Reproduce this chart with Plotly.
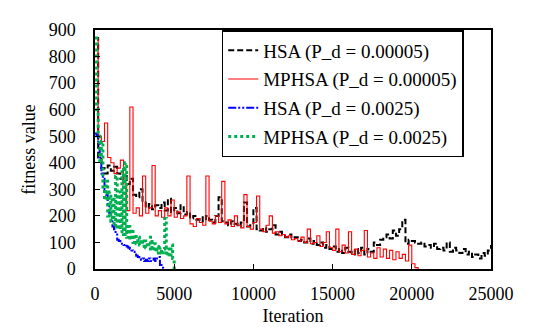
import plotly.graph_objects as go

# ---- data ----
hsa_small_step = 200
hsa_small = [870, 420, 380, 360, 390, 370, 385, 360, 340, 350, 320, 340, 280, 270, 300, 250,
             230, 245, 225, 240, 230, 250, 220, 265, 215, 230, 210, 240, 205, 215, 190, 200,
             185, 195, 180, 200, 185, 175, 200, 270, 180, 175, 165, 180, 170, 160, 175, 250,
             160, 165, 230, 150, 145, 155, 140, 150, 165, 130, 140, 125, 120, 130, 115, 120,
             105, 110, 100, 115, 95, 105, 90, 100, 80, 90, 75, 85, 65, 75, 60, 80,
             65, 55, 75, 60, 80, 55, 75, 65, 100, 90, 110, 120, 130, 115, 145, 125,
             150, 185, 95, 110, 105, 100, 95, 100, 85, 90, 80, 95, 75, 80, 70, 100,
             65, 80, 70, 60, 75, 55, 65, 45, 55, 40, 60, 50, 70, 90]

mphsa_small_step = 200
mphsa_small = [870, 500, 480, 550, 420, 400, 360, 380, 410, 320, 220, 610, 210, 230, 200, 350,
               210, 230, 390, 200, 220, 195, 230, 200, 260, 195, 215, 190, 200, 350, 170, 160,
               190, 175, 165, 350, 180, 170, 200, 175, 330, 170, 185, 160, 200, 165, 155, 280,
               160, 150, 175, 275, 150, 140, 165, 200, 135, 140, 125, 130, 120, 125, 110, 115,
               105, 120, 100, 150, 95, 100, 125, 85, 100, 140, 80, 70, 150, 65, 90, 60,
               140, 55, 75, 50, 70, 145, 45, 60, 40, 80, 45, 75, 40, 70, 35, 65,
               40, 55, 30, 90, 20, 5, 0]

hsa_large_step = 100
hsa_large = [510, 500, 470, 420, 360, 340, 300, 280, 240, 210, 200, 160, 150, 130, 110, 105,
             100, 95, 90, 92, 85, 80, 75, 70, 65, 55, 50, 45, 40, 35, 40, 30,
             35, 30, 40, 30, 35, 40, 30, 40, 45, 15, 5, 0]

mphsa_large_step = 100
mphsa_large = [870, 600, 500, 400, 480, 300, 260, 330, 200, 290, 180, 270, 160, 350, 150, 290,
               140, 380, 130, 400, 120, 160, 110, 150, 100, 130, 95, 120, 90, 110, 85, 105,
               80, 100, 75, 120, 70, 95, 65, 85, 60, 80, 55, 75, 190, 50, 75, 45,
               90, 40, 0]

series_names = ["HSA (P_d = 0.00005)", "MPHSA (P_d = 0.00005)",
                "HSA (P_d = 0.0025)", "MPHSA (P_d = 0.0025)"]
x_ticks = [0, 5000, 10000, 15000, 20000, 25000]
x_tick_labels = ["0", "5000", "10000", "15000", "20000", "25000"]
y_ticks = [0, 100, 200, 300, 400, 500, 600, 700, 800, 900]
y_tick_labels = ["0", "100", "200", "300", "400", "500", "600", "700", "800", "900"]


def iters(vals, step):
    return [i * step for i in range(len(vals))]


FONT = "Liberation Serif"

fig = go.Figure()
fig.add_trace(go.Scatter(x=iters(hsa_small, hsa_small_step), y=hsa_small, mode="lines",
                         line=dict(color="black", width=2, dash="6px,3px", shape="hv"),
                         name=series_names[0], legendgroup="a"))
fig.add_trace(go.Scatter(x=iters(mphsa_small, mphsa_small_step), y=mphsa_small, mode="lines",
                         line=dict(color="#ff0000", width=1.1, shape="hv"),
                         name=series_names[1], legendgroup="b"))
fig.add_trace(go.Scatter(x=iters(hsa_large, hsa_large_step), y=hsa_large, mode="lines",
                         line=dict(color="#0000ff", width=2, dash="8px,2px,2px,2px,2px,2px", shape="hv"),
                         name=series_names[2], legendgroup="c"))
fig.add_trace(go.Scatter(x=iters(mphsa_large, mphsa_large_step), y=mphsa_large, mode="lines",
                         line=dict(color="#00b050", width=3, dash="dot", shape="hv"),
                         name=series_names[3], legendgroup="d"))

fig.update_layout(
    width=533, height=327,
    margin=dict(l=87, r=50, t=15, b=60),
    paper_bgcolor="white", plot_bgcolor="white",
    font=dict(family=FONT, size=17, color="black"),
    showlegend=True,
    legend=dict(x=0.32, y=1.0, xanchor="left", yanchor="top",
                bordercolor="black", borderwidth=1.5, bgcolor="white",
                font=dict(family=FONT, size=19), tracegroupgap=1,
                traceorder="grouped"),
    xaxis=dict(range=[0, 25000], tickvals=x_ticks, ticktext=x_tick_labels,
               ticks="inside", ticklen=5,
               tickcolor="black", showline=True, linecolor="black", linewidth=1.5,
               mirror=True, showgrid=False, zeroline=False,
               title=dict(text="Iteration", font=dict(family=FONT, size=18), standoff=6),
               tickfont=dict(family=FONT, size=18), ticklabelstandoff=8),
    yaxis=dict(range=[0, 900], tickvals=y_ticks, ticktext=y_tick_labels,
               ticks="inside", ticklen=5,
               tickcolor="black", showline=True, linecolor="black", linewidth=1.5,
               mirror=True, showgrid=False, zeroline=False,
               title=dict(text="fitness value", font=dict(family=FONT, size=18), standoff=8),
               tickfont=dict(family=FONT, size=18), ticklabelstandoff=14),
)

fig.write_html("out.html")
